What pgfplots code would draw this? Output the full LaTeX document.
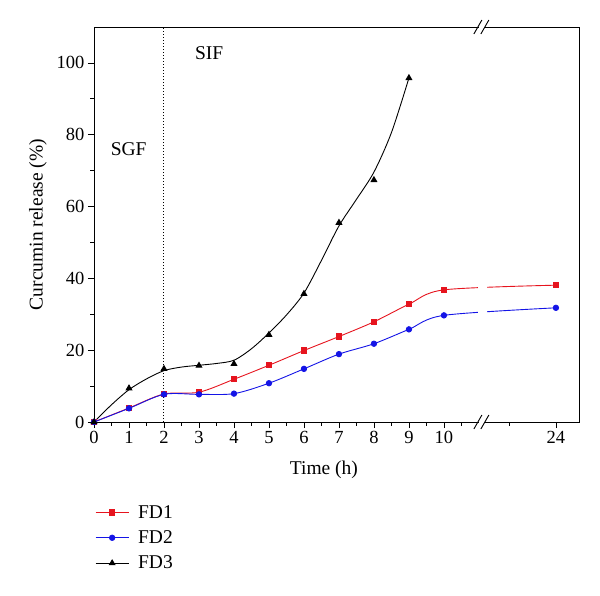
\documentclass[border=0pt]{standalone}
\usepackage{pgfplots}
\pgfplotsset{compat=1.18}
\usepackage{fontspec}
\setmainfont{Liberation Serif}

\definecolor{fdred}{RGB}{230,20,30}
\definecolor{fdblue}{RGB}{20,20,230}

\begin{document}
\begin{tikzpicture}
\useasboundingbox (-94pt,-173pt) rectangle (506pt,422pt);
\begin{axis}[
    scale only axis,
    width=485pt, height=395pt,
    xmin=0, xmax=13.86, ymin=0, ymax=110,
    % hours after the break are squeezed: 24 h sits at 13.2
    x coord trafo/.code={\pgfmathparse{#1>=20 ? #1-10.8 : #1}},
    xtick={0,1,2,3,4,5,6,7,8,9,10,24},
    xticklabels={0,1,2,3,4,5,6,7,8,9,10,24},
    minor xtick={0.5,1.5,2.5,3.5,4.5,5.5,6.5,7.5,8.5,9.5,10.5,11.87},
    ytick={0,20,40,60,80,100},
    minor ytick={10,30,50,70,90},
    tick align=outside,
    xtick pos=bottom, ytick pos=left,
    major tick length=6pt, minor tick length=3.5pt,
    tick style={black, line width=0.8pt},
    axis line style={line width=0.8pt},
    /pgf/number format/assume math mode=true,
    tick label style={font=\fontsize{18.5}{20}\selectfont},
    label style={font=\fontsize{19.5}{22}\selectfont},
    xlabel={Time (h)},
    ylabel={Curcumin release (\%)},
    xlabel style={at={(axis description cs:0.474,-0.1215)}, anchor=center},
    ylabel style={at={(axis description cs:-0.1155,0.5)}, anchor=center},
    clip=false,
    legend style={at={(axis description cs:0,0)}, anchor=north west,
        yshift=-80pt, xshift=-2pt, draw=none, fill=none,
        font=\fontsize{19.5}{22}\selectfont, row sep=9pt,
        nodes={inner sep=1pt}},
    legend cell align=left,
    legend image code/.code={
        \draw[#1] (0pt,0pt) -- (33pt,0pt);
        \draw[#1, only marks] plot coordinates {(16.5pt,0pt)};
        \path (41pt,0pt);
    },
]
% FD1
\addplot[fdred, line width=0.9pt, smooth, tension=0.5, mark=square*, mark size=2.6pt]
coordinates {(0,0) (1,3.9) (2,7.8) (3,8.3) (4,11.9) (5,15.8) (6,19.9) (7,23.8) (8,27.9) (9,32.8) (10,36.8) (24,38.1)};
\addlegendentry{FD1}
% FD2
\addplot[fdblue, line width=0.9pt, smooth, tension=0.5, mark=*, mark size=2.7pt]
coordinates {(0,0) (1,3.8) (2,7.7) (3,7.7) (4,7.9) (5,10.8) (6,14.8) (7,18.9) (8,21.8) (9,25.8) (10,29.7) (24,31.8)};
\addlegendentry{FD2}
% FD3: marks, then the fitted curve
\addplot[black, line width=0.9pt, only marks, mark=triangle*, mark size=3.2pt]
coordinates {(0,0) (1,9.4) (2,14.8) (3,15.7) (4,16.2) (5,24.3) (6,35.7) (7,55.5) (8,67.4) (9,95.8)};
\addlegendentry{FD3}
\addplot[black, line width=0.9pt, smooth, tension=0.5, forget plot]
coordinates {(0,0) (0.5,4.8) (1,9.0) (1.5,12.0) (2,14.3) (2.5,15.3) (3,15.8) (3.5,16.3) (4,17.2) (4.5,20.4) (5,24.8) (5.5,29.8) (6,35.9) (6.5,45.0) (7,54.6) (7.5,62.0) (8,69.6) (8.5,80.6) (9,95.8)};

% SGF / SIF boundary
\draw[dotted, line width=1pt] (axis cs:2,0) -- (axis cs:2,110);
\node[font=\fontsize{19.5}{22}\selectfont] at (axis cs:0.99,75.9) {SGF};
\node[font=\fontsize{19.5}{22}\selectfont] at (axis cs:3.29,102.8) {SIF};

% axis break
\fill[white] (axis cs:10.97,1) rectangle (axis cs:11.23,109);
\fill[white] ([yshift=-2pt]axis cs:10.99,0) rectangle ([yshift=2pt]axis cs:11.15,0);
\fill[white] ([yshift=-2pt]axis cs:10.99,110) rectangle ([yshift=2pt]axis cs:11.15,110);
\draw[line width=0.9pt] ([shift={(-4pt,-7pt)}]axis cs:10.97,0) -- ++(8pt,14pt);
\draw[line width=0.9pt] ([shift={(-4pt,-7pt)}]axis cs:11.17,0) -- ++(8pt,14pt);
\draw[line width=0.9pt] ([shift={(-4pt,-7pt)}]axis cs:10.97,110) -- ++(8pt,14pt);
\draw[line width=0.9pt] ([shift={(-4pt,-7pt)}]axis cs:11.17,110) -- ++(8pt,14pt);
\end{axis}
\end{tikzpicture}
\end{document}
